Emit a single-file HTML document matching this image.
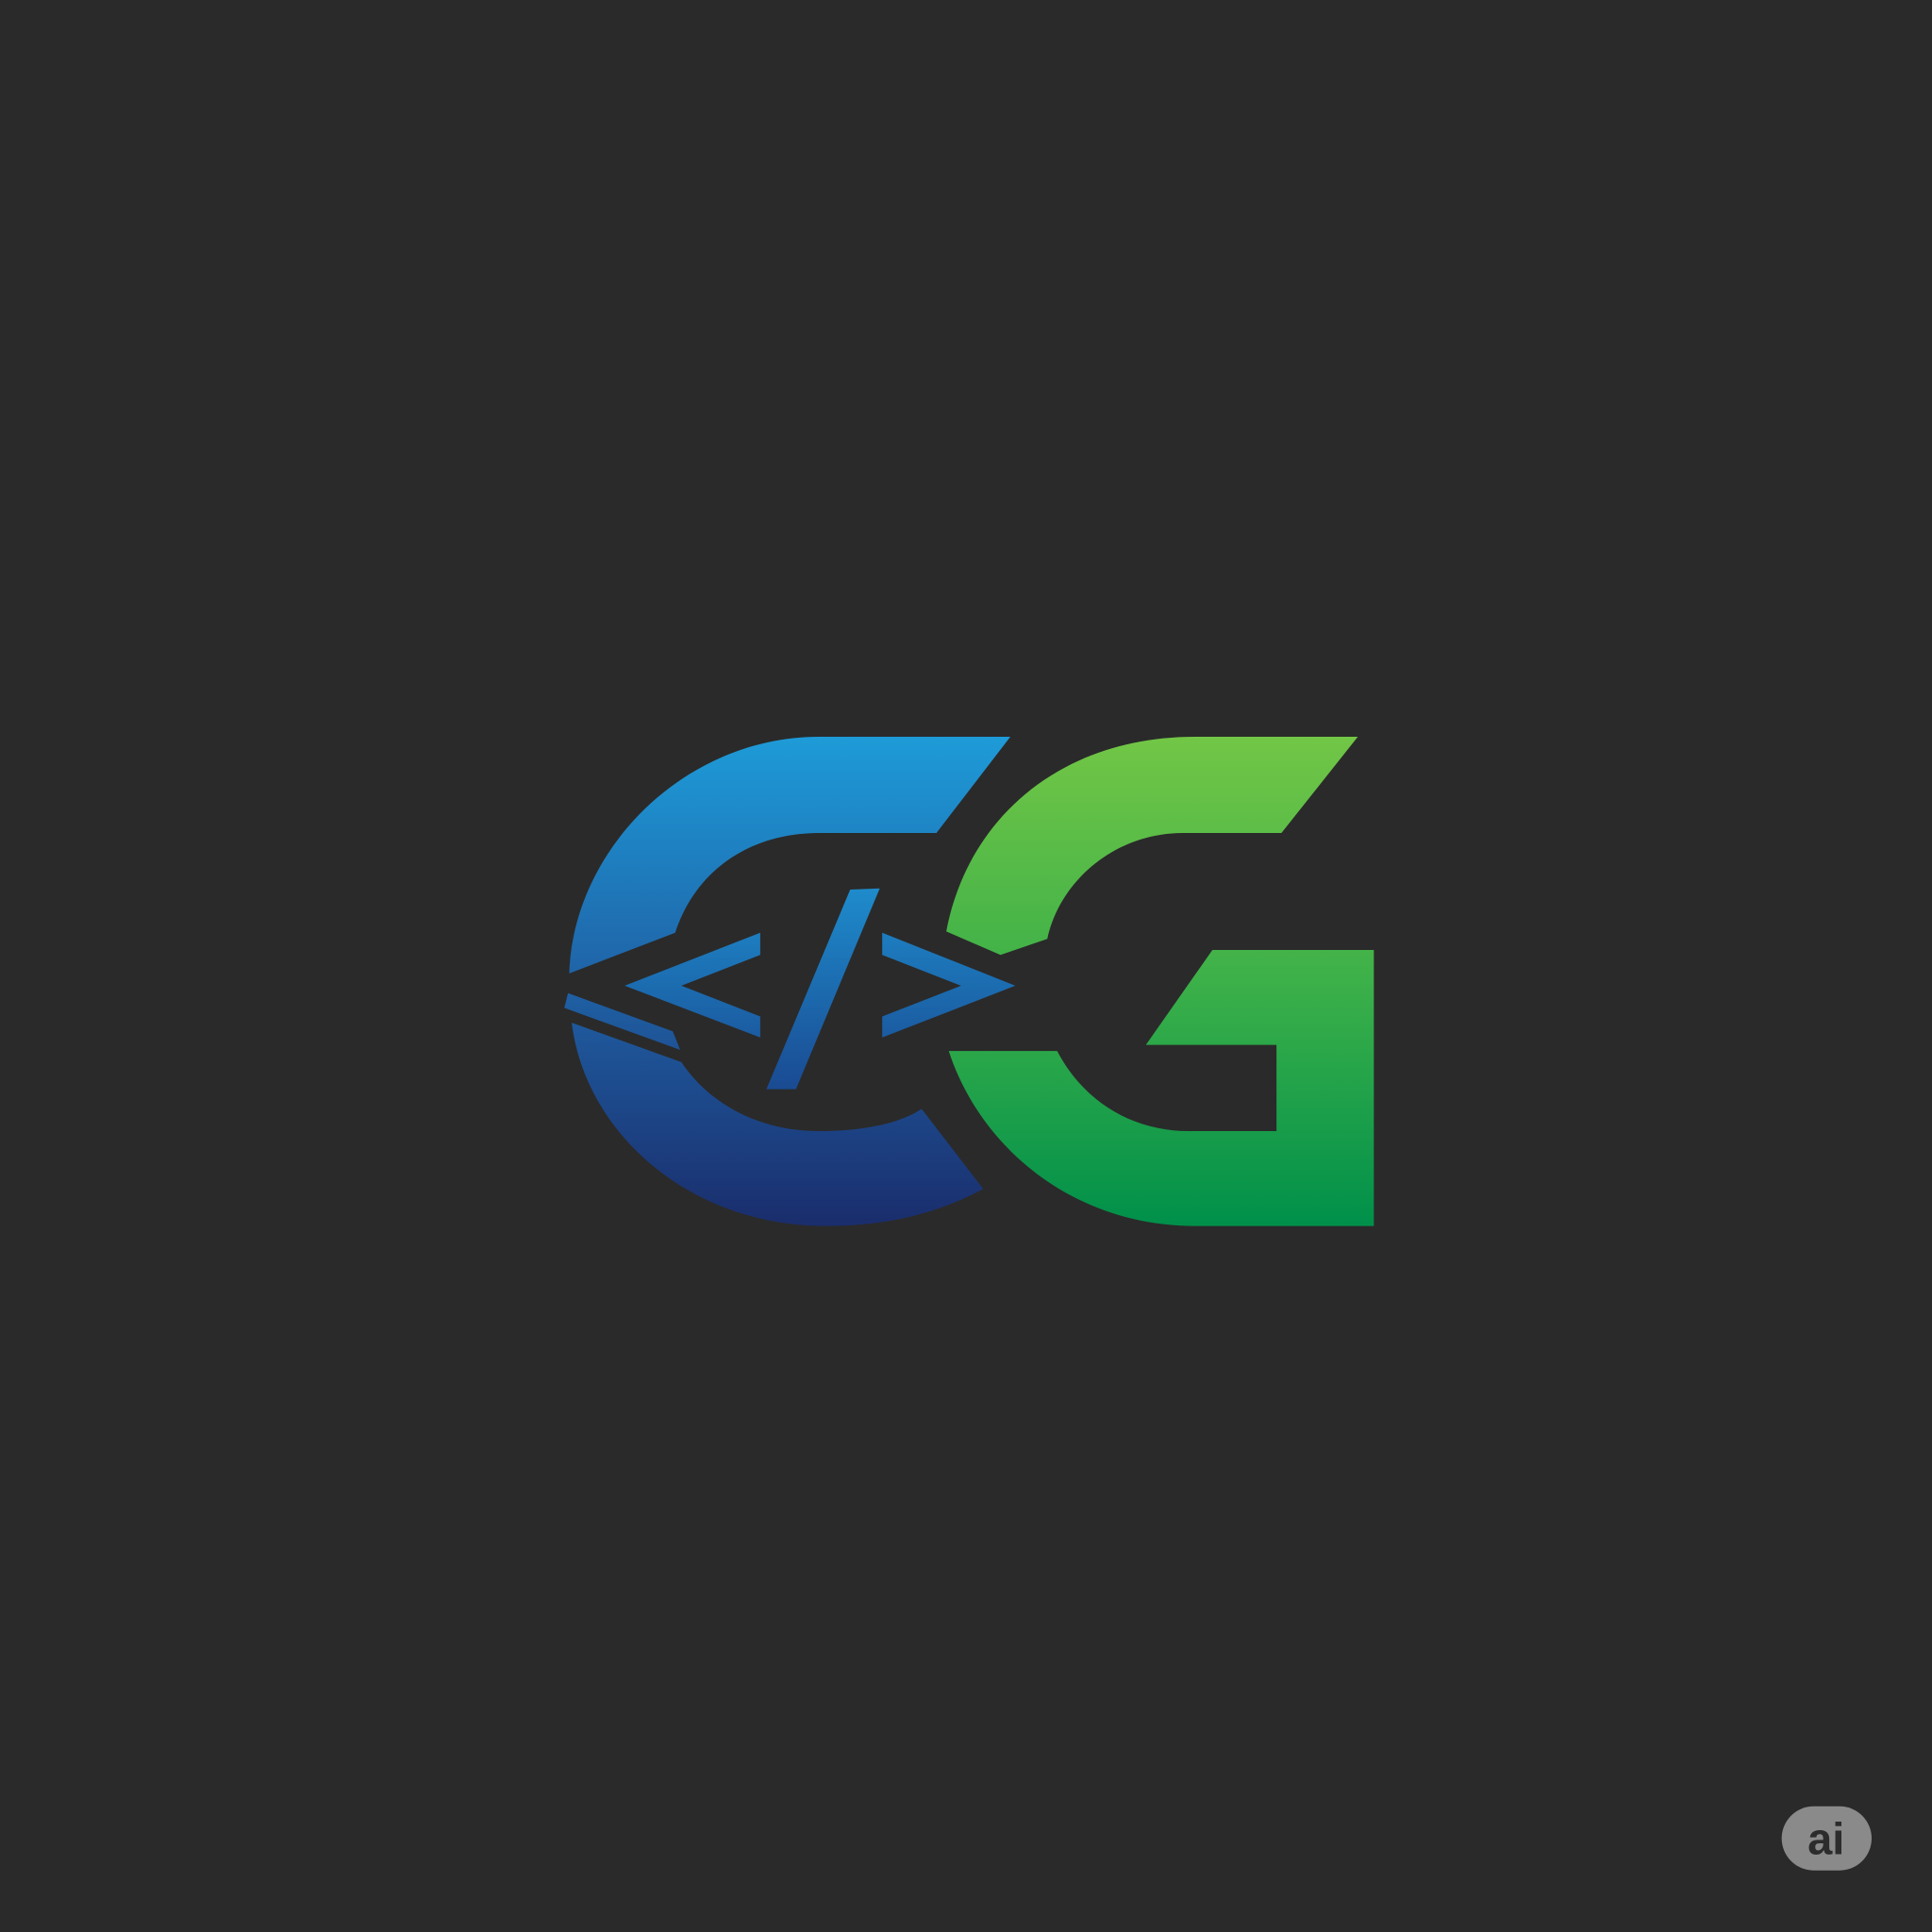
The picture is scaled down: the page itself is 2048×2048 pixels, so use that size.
<!DOCTYPE html>
<html>
<head>
<meta charset="utf-8">
<style>
html,body{margin:0;padding:0;background:#2a2a2a;}
svg{display:block;}
</style>
</head>
<body>
<svg width="2048" height="2048" viewBox="0 0 1568 1568" xmlns="http://www.w3.org/2000/svg">
  <defs>
    <linearGradient id="gc" gradientUnits="userSpaceOnUse" x1="0" y1="598" x2="0" y2="995">
      <stop offset="0" stop-color="#1e9bd8"/>
      <stop offset="0.5" stop-color="#1f62a6"/>
      <stop offset="1" stop-color="#1a2d6c"/>
    </linearGradient>
    <linearGradient id="gg" gradientUnits="userSpaceOnUse" x1="0" y1="598" x2="0" y2="995">
      <stop offset="0" stop-color="#72c646"/>
      <stop offset="0.5" stop-color="#3cb049"/>
      <stop offset="1" stop-color="#00904a"/>
    </linearGradient>
    <linearGradient id="gcode" gradientUnits="userSpaceOnUse" x1="0" y1="720" x2="0" y2="885">
      <stop offset="0" stop-color="#1e8ccc"/>
      <stop offset="1" stop-color="#1a4a92"/>
    </linearGradient>
  </defs>
  <rect x="0" y="0" width="1568" height="1568" fill="#2a2a2a"/>
  <g fill="url(#gc)">
    <path d="M820,598 L665,598 C555,598 465,690 462,790 L548,757 C565,705 610,676 665,676 L760,676 Z"/>
    <path d="M464,830 L553,862 C575,895 615,918 665,918 C700,918 730,912 748,900 L798,965 C760,985 720,995 670,995 C560,995 475,920 464,830 Z"/>
    <path d="M461,806 L546,837 L552,852 L458,818 Z"/>
  </g>
  <g fill="url(#gg)">
    <path d="M1102,598 L970,598 C860,598 785,665 768,756 L812,775 L850,762 C860,715 905,676 960,676 L1040,676 Z"/>
    <path d="M770,853 L858,853 C880,895 920,918 965,918 L1036,918 L1036,848 L930,848 L984,771 L1115,771 L1115,995 L970,995 C870,995 795,930 770,853 Z"/>
  </g>
  <g fill="url(#gcode)">
    <polygon points="617,757 507,800 617,842 617,825 553,800 617,775"/>
    <polygon points="716,757 824,800 716,842 716,825 780,800 716,775"/>
    <polygon points="690,722 714,721 646,884 622,884"/>
  </g>
  <g>
    <rect x="1446" y="1466" width="73" height="52" rx="26" fill="#8a8a8a"/>
    <text x="1482" y="1505" text-anchor="middle" font-family="Liberation Sans, sans-serif" font-weight="bold" font-size="36" fill="#2c2c2c">ai</text>
  </g>
</svg>
</body>
</html>
